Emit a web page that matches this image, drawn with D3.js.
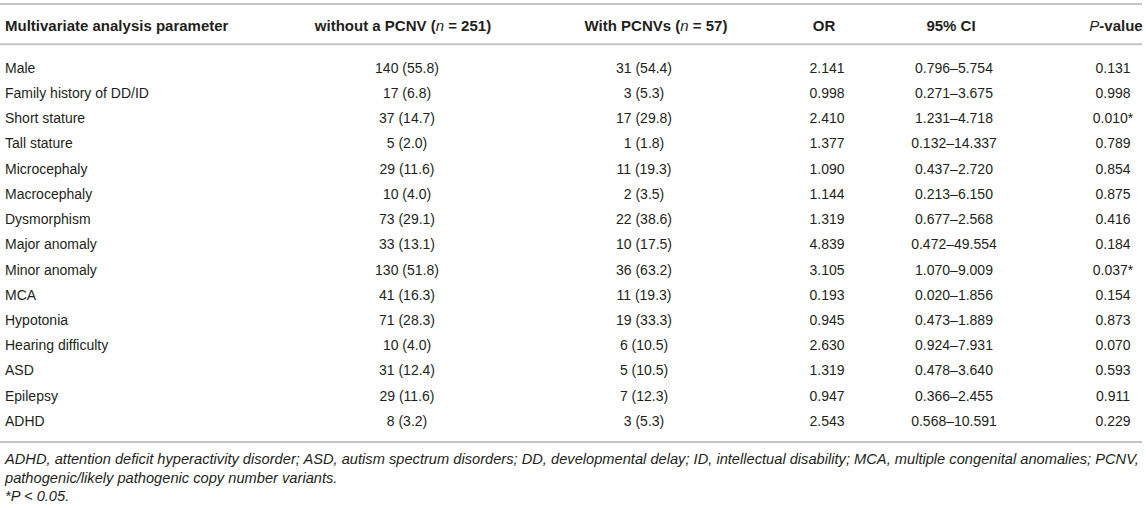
<!DOCTYPE html>
<html><head><meta charset="utf-8">
<script src="https://cdn.jsdelivr.net/npm/d3@7"></script>
<style>
html,body{margin:0;padding:0;background:#fff;}
svg{display:block;font-family:"Liberation Sans",Arial,Helvetica,sans-serif;}
</style>
</head><body>
<svg id="chart" width="1146" height="508"></svg>
<script>
// ---- data ----
const parameters = ["Male","Family history of DD/ID","Short stature","Tall stature","Microcephaly","Macrocephaly","Dysmorphism","Major anomaly","Minor anomaly","MCA","Hypotonia","Hearing difficulty","ASD","Epilepsy","ADHD"];
const withoutCounts = [140,17,37,5,29,10,73,33,130,41,71,10,31,29,8];
const withoutPct    = [55.8,6.8,14.7,2.0,11.6,4.0,29.1,13.1,51.8,16.3,28.3,4.0,12.4,11.6,3.2];
const withCounts    = [31,3,17,1,11,2,22,10,36,11,19,6,5,7,3];
const withPct       = [54.4,5.3,29.8,1.8,19.3,3.5,38.6,17.5,63.2,19.3,33.3,10.5,10.5,12.3,5.3];
const oddsRatios    = [2.141,0.998,2.410,1.377,1.090,1.144,1.319,4.839,3.105,0.193,0.945,2.630,1.319,0.947,2.543];
const ciLow         = [0.796,0.271,1.231,0.132,0.437,0.213,0.677,0.472,1.070,0.020,0.473,0.924,0.478,0.366,0.568];
const ciHigh        = [5.754,3.675,4.718,14.337,2.720,6.150,2.568,49.554,9.009,1.856,1.889,7.931,3.640,2.455,10.591];
const pValues       = [0.131,0.998,0.010,0.789,0.854,0.875,0.416,0.184,0.037,0.154,0.873,0.070,0.593,0.911,0.229];
const columnKeys    = ["param","without","with","or","ci","p"];
const headers       = ["Multivariate analysis parameter","without a PCNV (_n_ = 251)","With PCNVs (_n_ = 57)","OR","95% CI","_P_-value"];
const footnotes     = [
  "ADHD, attention deficit hyperactivity disorder; ASD, autism spectrum disorders; DD, developmental delay; ID, intellectual disability; MCA, multiple congenital anomalies; PCNV,",
  "pathogenic/likely pathogenic copy number variants.",
  "*P < 0.05."
];

// ---- layout ----
const W = 1146, H = 508;
const svg = d3.select("#chart");
const textColor = "#231f20";
const ruleColor = "#c4c4c4";

const f1 = d3.format(".1f"), f3 = d3.format(".3f");
const rows = parameters.map((p, i) => ({
  param: p,
  without: `${withoutCounts[i]} (${f1(withoutPct[i])})`,
  with: `${withCounts[i]} (${f1(withPct[i])})`,
  or: f3(oddsRatios[i]),
  ci: `${f3(ciLow[i])}\u2013${f3(ciHigh[i])}`,
  p: f3(pValues[i]) + (pValues[i] < 0.05 ? "*" : "")
}));

const headerX = d3.scaleOrdinal().domain(columnKeys).range([5, 403, 656, 824, 951, 1116]);
const cellX   = d3.scaleOrdinal().domain(columnKeys).range([5, 407, 644, 827, 954, 1113]);
const anchor  = k => k === "param" ? "start" : "middle";
const y = d3.scalePoint().domain(parameters).range([72.8, 425.8]);

// rules
const rules = [4, 44.3, 442];
svg.selectAll("line.rule").data(rules).join("line")
  .attr("class","rule")
  .attr("x1", 0).attr("x2", 1142)
  .attr("y1", d => d).attr("y2", d => d)
  .attr("stroke", ruleColor).attr("stroke-width", 2);

// header
const hdr = svg.append("g").attr("font-weight","bold").attr("font-size", 15).attr("fill", textColor);
headers.forEach((h, i) => {
  const k = columnKeys[i];
  const t = hdr.append("text").attr("x", headerX(k)).attr("y", 30.7).attr("text-anchor", anchor(k));
  h.split("_").forEach((seg, j) => {
    if (!seg) return;
    const ts = t.append("tspan").text(seg);
    if (j % 2 === 1) ts.attr("font-style","italic").attr("font-weight","normal");
  });
});

// body
const body = svg.append("g").attr("font-size", 14).attr("fill", textColor);
const rowG = body.selectAll("g.row").data(rows).join("g")
  .attr("class","row")
  .attr("transform", d => `translate(0,${y(d.param)})`);
columnKeys.forEach(k => {
  rowG.append("text")
    .attr("x", cellX(k))
    .attr("text-anchor", anchor(k))
    .text(d => d[k]);
});

// footnotes
const fnY = [464.3, 483.3, 501];
const fg = svg.append("g").attr("font-style","italic").attr("fill", textColor);
const probe = fg.append("text").attr("font-size", 13).text(footnotes[0]);
const natural = probe.node().getComputedTextLength();
probe.remove();
const fs = 13 * (1135 / natural);
footnotes.forEach((t, i) => {
  fg.append("text").attr("x", 5).attr("y", fnY[i]).attr("font-size", fs).text(t);
});
</script>
</body></html>
